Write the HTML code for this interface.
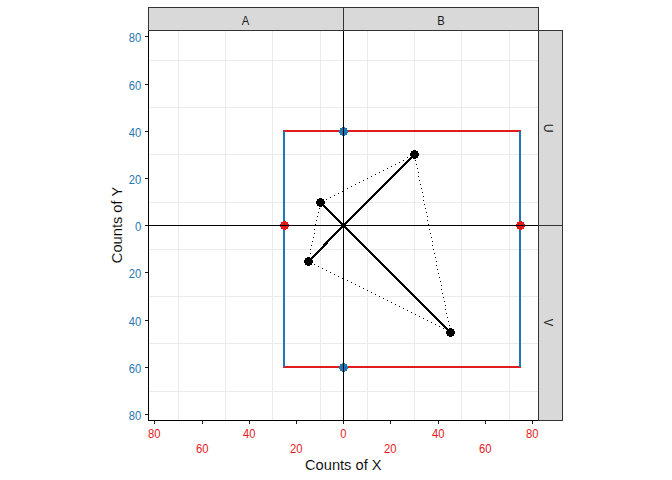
<!DOCTYPE html><html><head><meta charset="utf-8"><style>html,body{margin:0;padding:0;background:#fff;}svg{display:block;}text{font-family:"Liberation Sans",sans-serif;}</style></head><body>
<svg width="672" height="480" viewBox="0 0 672 480">
<rect x="0" y="0" width="672" height="480" fill="#fff"/>
<path d="M178.5 31V420 M225.5 31V420 M272.5 31V420 M320.5 31V420 M367.5 31V420 M414.5 31V420 M461.5 31V420 M509.5 31V420 M149 60.5H538 M149 107.5H538 M149 154.5H538 M149 202.5H538 M149 249.5H538 M149 296.5H538 M149 343.5H538 M149 391.5H538" stroke="#EBEBEB" stroke-width="1" fill="none"/>
<path d="M283 131H521 M283 367H521" stroke="#E31A1C" stroke-width="2" fill="none"/>
<path d="M284 131V367 M520 131V367" stroke="#1F78B4" stroke-width="2" fill="none"/>
<path d="M283 221H286V222H288V224H289V227H288V229H286V230H283V229H281V227H280V224H281V222H283Z M519 221H522V222H524V224H525V227H524V229H522V230H519V229H517V227H516V224H517V222H519Z" fill="#E31A1C" shape-rendering="crispEdges"/>
<path d="M342 127H345V128H347V130H348V133H347V135H345V136H342V135H340V133H339V130H340V128H342Z M342 363H345V364H347V366H348V369H347V371H345V372H342V371H340V369H339V366H340V364H342Z" fill="#1F78B4" shape-rendering="crispEdges"/>
<path d="M343.5 31V420 M149 225.5H538" stroke="#000" stroke-width="1" fill="none"/>
<path d="M322 201h1v1h-1zM326 199h1v1h-1zM330 197h1v1h-1zM334 195h1v1h-1zM338 193h1v1h-1zM342 191h1v1h-1zM343 190h1v1h-1zM347 188h1v1h-1zM351 186h1v1h-1zM355 184h1v1h-1zM359 182h1v1h-1zM363 180h1v1h-1zM367 178h1v1h-1zM371 176h1v1h-1zM375 174h1v1h-1zM379 172h1v1h-1zM383 170h1v1h-1zM387 168h1v1h-1zM391 166h1v1h-1zM395 164h1v1h-1zM399 162h1v1h-1zM403 160h1v1h-1zM407 157h1v1h-1zM411 155h1v1h-1zM414 156h1v1h-1zM415 160h1v1h-1zM416 164h1v1h-1zM417 168h1v1h-1zM418 172h1v1h-1zM418 176h1v1h-1zM419 180h1v1h-1zM420 184h1v1h-1zM421 188h1v1h-1zM422 192h1v1h-1zM423 196h1v1h-1zM423 200h1v1h-1zM424 204h1v1h-1zM425 208h1v1h-1zM426 212h1v1h-1zM427 216h1v1h-1zM427 220h1v1h-1zM428 224h1v1h-1zM428 225h1v1h-1zM429 229h1v1h-1zM430 233h1v1h-1zM431 237h1v1h-1zM432 241h1v1h-1zM432 245h1v1h-1zM433 249h1v1h-1zM434 253h1v1h-1zM435 257h1v1h-1zM436 261h1v1h-1zM436 265h1v1h-1zM437 269h1v1h-1zM438 273h1v1h-1zM439 277h1v1h-1zM440 281h1v1h-1zM441 285h1v1h-1zM441 289h1v1h-1zM442 293h1v1h-1zM443 297h1v1h-1zM444 301h1v1h-1zM445 305h1v1h-1zM445 309h1v1h-1zM446 313h1v1h-1zM447 317h1v1h-1zM448 321h1v1h-1zM449 325h1v1h-1zM449 329h1v1h-1zM310 262h1v1h-1zM314 264h1v1h-1zM318 266h1v1h-1zM322 268h1v1h-1zM326 270h1v1h-1zM330 272h1v1h-1zM334 274h1v1h-1zM338 276h1v1h-1zM342 278h1v1h-1zM343 278h1v1h-1zM347 280h1v1h-1zM351 282h1v1h-1zM355 284h1v1h-1zM359 286h1v1h-1zM363 288h1v1h-1zM367 290h1v1h-1zM371 292h1v1h-1zM375 294h1v1h-1zM379 296h1v1h-1zM383 298h1v1h-1zM387 300h1v1h-1zM391 302h1v1h-1zM395 304h1v1h-1zM399 306h1v1h-1zM403 308h1v1h-1zM407 310h1v1h-1zM411 312h1v1h-1zM415 314h1v1h-1zM419 316h1v1h-1zM423 318h1v1h-1zM427 320h1v1h-1zM431 322h1v1h-1zM435 324h1v1h-1zM439 326h1v1h-1zM443 328h1v1h-1zM447 330h1v1h-1zM319 204h1v1h-1zM319 208h1v1h-1zM318 212h1v1h-1zM317 216h1v1h-1zM316 220h1v1h-1zM315 224h1v1h-1zM315 225h1v1h-1zM314 229h1v1h-1zM314 233h1v1h-1zM313 237h1v1h-1zM312 241h1v1h-1zM311 245h1v1h-1zM310 249h1v1h-1zM310 253h1v1h-1zM309 257h1v1h-1zM308 261h1v1h-1z" fill="#000"/>
<path d="M343.5 225.5L320.5 202.5 M343.5 225.5L414.5 154.5 M343.5 225.5L450.5 332.5 M343.5 225.5L308.5 261.5" stroke="#000" stroke-width="2.2" fill="none" shape-rendering="crispEdges"/>
<path d="M319 198H322V199H324V201H325V204H324V206H322V207H319V206H317V204H316V201H317V199H319Z M413 150H416V151H418V153H419V156H418V158H416V159H413V158H411V156H410V153H411V151H413Z M449 328H452V329H454V331H455V334H454V336H452V337H449V336H447V334H446V331H447V329H449Z M307 257H310V258H312V260H313V263H312V265H310V266H307V265H305V263H304V260H305V258H307Z" fill="#000" shape-rendering="crispEdges"/>
<path d="M148.5 31V420.5 M148 420.5H538" stroke="#000" stroke-width="1" fill="none"/>
<path d="M154.5 421V424 M202.5 421V424 M249.5 421V424 M296.5 421V424 M343.5 421V424 M390.5 421V424 M438.5 421V424 M485.5 421V424 M532.5 421V424 M145 36.5H148 M145 84.5H148 M145 131.5H148 M145 178.5H148 M145 225.5H148 M145 272.5H148 M145 320.5H148 M145 367.5H148 M145 414.5H148" stroke="#1a1a1a" stroke-width="1" fill="none"/>
<rect x="148.5" y="7.5" width="390" height="23" fill="#D9D9D9" stroke="#333" stroke-width="1"/>
<path d="M343.5 7V31" stroke="#333" stroke-width="1"/>
<rect x="538.5" y="30.5" width="24" height="390" fill="#D9D9D9" stroke="#333" stroke-width="1"/>
<path d="M538 225.5H563" stroke="#333" stroke-width="1"/>
<text transform="translate(245.5,25) scale(0.96,1.12)" font-size="11.73" fill="#1A1A1A" text-anchor="middle">A</text>
<text transform="translate(441,25) scale(0.96,1.12)" font-size="11.73" fill="#1A1A1A" text-anchor="middle">B</text>
<text transform="translate(544,128.3) rotate(90) scale(1.05,1.12)" font-size="11.73" fill="#1A1A1A" text-anchor="middle">U</text>
<text transform="translate(544,322.5) rotate(90) scale(0.96,1.12)" font-size="11.73" fill="#1A1A1A" text-anchor="middle">V</text>
<text transform="translate(141.3,42) scale(0.96,1.12)" font-size="11.73" fill="#1F78B4" text-anchor="end">80</text>
<text transform="translate(141.3,90) scale(0.96,1.12)" font-size="11.73" fill="#1F78B4" text-anchor="end">60</text>
<text transform="translate(141.3,137) scale(0.96,1.12)" font-size="11.73" fill="#1F78B4" text-anchor="end">40</text>
<text transform="translate(141.3,184) scale(0.96,1.12)" font-size="11.73" fill="#1F78B4" text-anchor="end">20</text>
<text transform="translate(141.3,231) scale(0.96,1.12)" font-size="11.73" fill="#1F78B4" text-anchor="end">0</text>
<text transform="translate(141.3,278) scale(0.96,1.12)" font-size="11.73" fill="#1F78B4" text-anchor="end">20</text>
<text transform="translate(141.3,326) scale(0.96,1.12)" font-size="11.73" fill="#1F78B4" text-anchor="end">40</text>
<text transform="translate(141.3,373) scale(0.96,1.12)" font-size="11.73" fill="#1F78B4" text-anchor="end">60</text>
<text transform="translate(141.3,420) scale(0.96,1.12)" font-size="11.73" fill="#1F78B4" text-anchor="end">80</text>
<text transform="translate(154.3,438) scale(0.96,1.12)" font-size="11.73" fill="#E31A1C" text-anchor="middle">80</text>
<text transform="translate(202.3,453) scale(0.96,1.12)" font-size="11.73" fill="#E31A1C" text-anchor="middle">60</text>
<text transform="translate(249.3,438) scale(0.96,1.12)" font-size="11.73" fill="#E31A1C" text-anchor="middle">40</text>
<text transform="translate(296.3,453) scale(0.96,1.12)" font-size="11.73" fill="#E31A1C" text-anchor="middle">20</text>
<text transform="translate(343.3,438) scale(0.96,1.12)" font-size="11.73" fill="#E31A1C" text-anchor="middle">0</text>
<text transform="translate(390.3,453) scale(0.96,1.12)" font-size="11.73" fill="#E31A1C" text-anchor="middle">20</text>
<text transform="translate(438.3,438) scale(0.96,1.12)" font-size="11.73" fill="#E31A1C" text-anchor="middle">40</text>
<text transform="translate(485.3,453) scale(0.96,1.12)" font-size="11.73" fill="#E31A1C" text-anchor="middle">60</text>
<text transform="translate(532.3,438) scale(0.96,1.12)" font-size="11.73" fill="#E31A1C" text-anchor="middle">80</text>
<text transform="translate(343.3,470)" font-size="14.67" fill="#000" text-anchor="middle" stroke="#fff" stroke-width="0.1">Counts of X</text>
<text transform="translate(122,225) rotate(-90)" font-size="14.67" fill="#000" text-anchor="middle" stroke="#fff" stroke-width="0.1">Counts of Y</text>
</svg></body></html>
